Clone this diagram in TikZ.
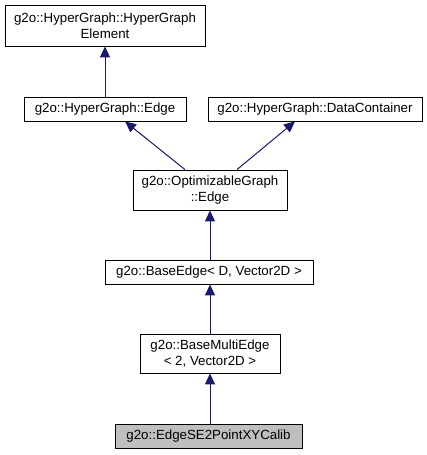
\documentclass[tikz,border=0pt]{standalone}
\usepackage{fontspec}
\setmainfont{Liberation Sans}
\usetikzlibrary{calc,arrows.meta}
\definecolor{edgeblue}{HTML}{191970}
\tikzset{
  box/.style={draw=black, line width=0.9pt, fill=white, inner sep=0pt, align=center,
    font=\fontsize{13.3}{15.5}\selectfont},
  inh/.style={draw=edgeblue, line width=1pt, -{Triangle[length=11pt,width=10pt,fill=edgeblue]}}
}
\begin{document}
\begin{tikzpicture}[x=1pt,y=-1pt]
\useasboundingbox (0,0) rectangle (427,455);
\node[box, minimum width=200pt, minimum height=41pt] (b1) at (105,25.5) {g2o::HyperGraph::HyperGraph\\Element};
\node[box, minimum width=162pt, minimum height=24pt] (b2) at (105,109) {g2o::HyperGraph::Edge};
\node[box, minimum width=214pt, minimum height=24pt] (b3) at (315,109) {g2o::HyperGraph::DataContainer};
\node[box, minimum width=154pt, minimum height=40pt] (b4) at (210,190) {g2o::OptimizableGraph\\::Edge};
\node[box, minimum width=208pt, minimum height=24pt] (b5) at (209,272) {g2o::BaseEdge< D, Vector2D >};
\node[box, minimum width=140pt, minimum height=39pt] (b6) at (210,353.5) {g2o::BaseMultiEdge\\< 2, Vector2D >};
\node[box, fill=black!25, minimum width=187pt, minimum height=24pt] (b7) at (208.5,436) {g2o::EdgeSE2PointXYCalib};
\draw[inh] (b7.north -| b6.south) -- (b6.south);
\draw[inh] (b6.north) -- (b6.north |- b5.south);
\draw[inh] (b5.north -| b4.south) -- (b4.south);
\draw[inh] ($(b4.north)+(-25,0)$) -- ($(b2.south)+(20,0)$);
\draw[inh] ($(b4.north)+(27,0)$) -- ($(b3.south)+(-20,0)$);
\draw[inh] (b2.north) -- (b1.south);
\end{tikzpicture}
\end{document}
